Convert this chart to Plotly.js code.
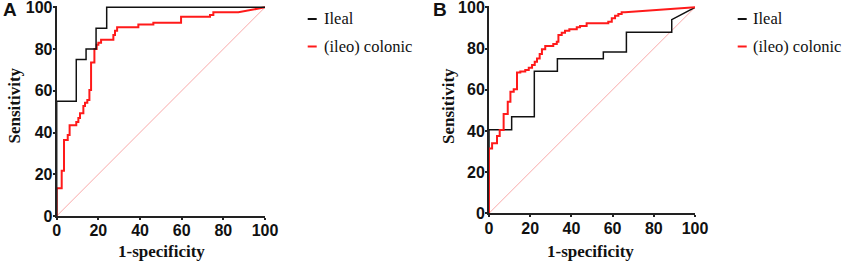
<!DOCTYPE html>
<html>
<head>
<meta charset="utf-8">
<script src="https://cdn.plot.ly/plotly-3.0.1.min.js"></script>
<style>html,body{margin:0;padding:0;background:#fff;}#chart{width:844px;height:262px;}</style>
</head>
<body>
<div id="chart"></div>
<script>
// ---- Data ----
var seriesNames = ['Ileal', '(ileo) colonic'];
var panelLabels = ['A', 'B'];
var xTitle = '1-specificity';
var yTitle = 'Sensitivity';
var tickVals = [0, 20, 40, 60, 80, 100];
var tickText = ['0', '20', '40', '60', '80', '100'];

// Panel A - Ileal
var aIlealX = [0, 0, 9.4, 9.4, 14.1, 14.1, 18.9, 18.9, 24, 24, 100];
var aIlealY = [0, 55, 55, 75, 75, 80, 80, 90, 90, 100, 100];

// Panel A - (ileo) colonic
var aColonicX = [0, 0, 2.4, 2.4, 3.5, 3.5, 5.3, 5.3, 6.2, 6.2, 9.4, 9.4, 10.4, 10.4, 11.2, 11.2, 12.8, 12.8, 13.6, 13.6, 14.7, 14.7, 15.7, 15.7, 16.5, 16.5, 18.1, 18.1, 19.2, 19.2, 20, 20, 21.3, 21.3, 27.2, 27.2, 28, 28, 29, 29, 39.2, 39.2, 46.4, 46.4, 59.7, 59.7, 73.6, 73.6, 75.2, 75.2, 87.2, 100];
var aColonicY = [0, 13.3, 13.3, 21.7, 21.7, 36.4, 36.4, 38.8, 38.8, 43.5, 43.5, 45, 45, 47, 47, 49.2, 49.2, 52.7, 52.7, 54.3, 54.3, 55.6, 55.6, 60.4, 60.4, 73.6, 73.6, 80, 80, 82, 82, 83, 83, 84.5, 84.5, 86.7, 86.7, 88.8, 88.8, 90.4, 90.4, 91.7, 91.7, 92.6, 92.6, 95.5, 95.5, 96.3, 96.3, 97.6, 97.6, 100];

// Panel B - Ileal
var bIlealX = [0, 0, 11, 11, 22, 22, 33.2, 33.2, 55.5, 55.5, 66.7, 66.7, 88.7, 88.7, 100];
var bIlealY = [0, 40.6, 40.6, 46.9, 46.9, 68.9, 68.9, 75, 75, 78.3, 78.3, 87.9, 87.9, 94, 100];

// Panel B - (ileo) colonic
var bColonicX = [0, 0, 1.5, 1.5, 3.9, 3.9, 5.2, 5.2, 7.1, 7.1, 9.1, 9.1, 10.4, 10.4, 12, 12, 13.6, 13.6, 15.2, 15.2, 17.6, 17.6, 19.3, 19.3, 20.9, 20.9, 22.2, 22.2, 23.3, 23.3, 24.6, 24.6, 25.7, 25.7, 27.3, 27.3, 31.2, 31.2, 32.9, 32.9, 33.7, 33.7, 35.3, 35.3, 36.9, 36.9, 39, 39, 42.6, 42.6, 44.2, 44.2, 47.4, 47.4, 57.9, 57.9, 59.6, 59.6, 61.2, 61.2, 62.8, 62.8, 64.4, 64.4, 66, 100];
var bColonicY = [0, 31.5, 31.5, 34, 34, 37.5, 37.5, 40.4, 40.4, 48.2, 48.2, 54.2, 54.2, 59, 59, 60.2, 60.2, 68.3, 68.3, 68.8, 68.8, 69.6, 69.6, 70.7, 70.7, 72, 72, 73.6, 73.6, 75.2, 75.2, 77.3, 77.3, 79.6, 79.6, 81.2, 81.2, 82.2, 82.2, 83.3, 83.3, 86.6, 86.6, 87.7, 87.7, 88.6, 88.6, 89.3, 89.3, 90.3, 90.3, 90.9, 90.9, 92.2, 92.2, 93, 93, 94.7, 94.7, 95.9, 95.9, 96.7, 96.7, 97.6, 97.6, 100];

// Reference (chance) line
var refX = [0, 100];
var refY = [0, 100];

// ---- Styles ----
var W = 844, H = 262;
var ilealColor = '#111111';
var colonicColor = '#ff1a1a';
var refColor = 'rgba(245,120,120,0.8)';
var serif = 'Liberation Serif, Times New Roman, serif';
var sans = 'Liberation Sans, Arial, sans-serif';

function px(x) { return x / W; }
function py(y) { return (H - y) / H; }

var traces = [
  {x: refX, y: refY, xaxis: 'x', yaxis: 'y', mode: 'lines', line: {color: refColor, width: 0.8}, showlegend: false, hoverinfo: 'skip'},
  {x: aColonicX, y: aColonicY, xaxis: 'x', yaxis: 'y', mode: 'lines', name: seriesNames[1], line: {color: colonicColor, width: 2}},
  {x: aIlealX, y: aIlealY, xaxis: 'x', yaxis: 'y', mode: 'lines', name: seriesNames[0], line: {color: ilealColor, width: 1.5}},
  {x: refX, y: refY, xaxis: 'x2', yaxis: 'y2', mode: 'lines', line: {color: refColor, width: 0.8}, showlegend: false, hoverinfo: 'skip'},
  {x: bIlealX, y: bIlealY, xaxis: 'x2', yaxis: 'y2', mode: 'lines', name: seriesNames[0], line: {color: ilealColor, width: 1.5}},
  {x: bColonicX, y: bColonicY, xaxis: 'x2', yaxis: 'y2', mode: 'lines', name: seriesNames[1], line: {color: colonicColor, width: 2}}
];

function axisBase(isY) {
  return {
    range: [0, 100],
    tickvals: tickVals,
    ticktext: tickText.map(function (t) { return '<b>' + t + '</b>'; }),
    ticks: 'outside', ticklen: 2, tickwidth: 2, tickcolor: '#222',
    ticklabelstandoff: -3,
    ticklabeloverflow: 'allow',
    showline: true, linewidth: 2, linecolor: '#222',
    showgrid: false, zeroline: false, fixedrange: true,
    tickfont: {family: sans, size: 16, color: '#111'}
  };
}

var xa = axisBase(false); xa.domain = [px(56.7), px(265)]; xa.anchor = 'y';
var ya = axisBase(true); ya.range = [0, 100.8]; ya.domain = [py(216), py(216 - 100.8 * 2.087)]; ya.anchor = 'x';
var xb = axisBase(false); xb.domain = [px(489), px(695)]; xb.anchor = 'y2';
var yb = axisBase(true); yb.range = [0, 100.8]; yb.domain = [py(213.3), py(213.3 - 100.8 * 2.06)]; yb.anchor = 'x2';

var annotations = [];
var shapes = [];
function addText(t, x, y, font, extra) {
  var a = {text: t, x: px(x), y: py(y), xref: 'paper', yref: 'paper', showarrow: false, font: font, xanchor: 'center', yanchor: 'middle'};
  for (var k in extra) a[k] = extra[k];
  annotations.push(a);
}
var titleFont = {family: serif, size: 17, color: '#111'};
var legFont = {family: serif, size: 16.5, color: '#111'};
var letterFont = {family: sans, size: 19, color: '#111'};

// Panel A texts
addText('<b>' + panelLabels[0] + '</b>', 9.5, 10, letterFont, {});
addText('<b>' + yTitle + '</b>', 13.5, 106, titleFont, {textangle: -90});
addText('<b>' + xTitle + '</b>', 161, 251, titleFont, {});
// Panel B texts
addText('<b>' + panelLabels[1] + '</b>', 439.5, 10, letterFont, {});
addText('<b>' + yTitle + '</b>', 448, 106, titleFont, {textangle: -90});
addText('<b>' + xTitle + '</b>', 590, 251, titleFont, {});

// Legends
var legendPos = [{dashX0: 307.7, textX: 322}, {dashX0: 737.7, textX: 751}];
var legendRows = [19, 46.5];
var legColors = [ilealColor, colonicColor];
legendPos.forEach(function (p) {
  for (var i = 0; i < 2; i++) {
    shapes.push({type: 'line', xref: 'paper', yref: 'paper', x0: px(p.dashX0), x1: px(p.dashX0 + 9), y0: py(legendRows[i]), y1: py(legendRows[i]), line: {color: legColors[i], width: 2}});
    addText(seriesNames[i], p.textX, legendRows[i], legFont, {xanchor: 'left'});
  }
});

var layout = {
  width: W, height: H,
  margin: {l: 0, r: 0, t: 0, b: 0},
  paper_bgcolor: '#fff', plot_bgcolor: '#fff',
  showlegend: false,
  xaxis: xa, yaxis: ya, xaxis2: xb, yaxis2: yb,
  annotations: annotations, shapes: shapes
};

Plotly.newPlot('chart', traces, layout, {staticPlot: true, displayModeBar: false});
</script>
</body>
</html>
